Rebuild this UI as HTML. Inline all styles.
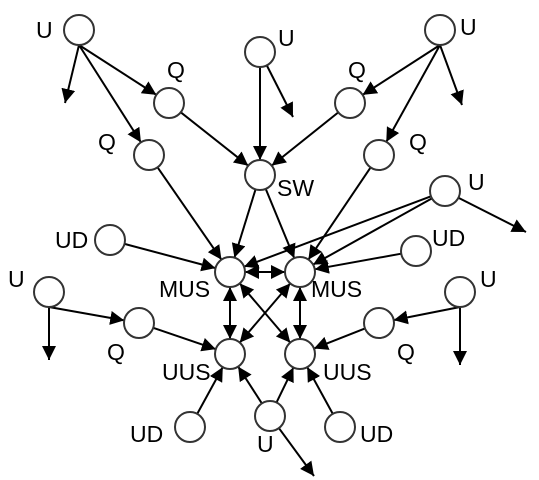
<!DOCTYPE html>
<html><head><meta charset="utf-8"><style>
html,body{margin:0;padding:0;background:#fff;width:539px;height:480px;overflow:hidden}
text{font-family:"Liberation Sans",Arial,sans-serif;font-size:23px;fill:#000}
</style></head><body>
<svg id="s" width="539" height="480" xmlns="http://www.w3.org/2000/svg">
<defs>
<marker id="b" viewBox="0 0 10 10" refX="10" refY="5" markerWidth="14" markerHeight="14" orient="auto-start-reverse" markerUnits="userSpaceOnUse"><path d="M0,0L10,5L0,10z" fill="#000"/></marker></defs>
<g id="e" stroke="#000" stroke-width="2"></g>
<g id="n" fill="#fff" stroke="#333" stroke-width="2"></g>
<text x="36" y="38">U</text>
<text x="167" y="78">Q</text>
<text x="278" y="46">U</text>
<text x="348" y="78">Q</text>
<text x="460" y="35">U</text>
<text x="98" y="150">Q</text>
<text x="409" y="150">Q</text>
<text x="277" y="196">SW</text>
<text x="468" y="190">U</text>
<text x="55" y="248">UD</text>
<text x="432" y="246">UD</text>
<text x="159" y="297">MUS</text>
<text x="311" y="297">MUS</text>
<text x="8" y="287">U</text>
<text x="480" y="287">U</text>
<text x="107" y="360">Q</text>
<text x="397" y="360">Q</text>
<text x="162" y="380">UUS</text>
<text x="323" y="380">UUS</text>
<text x="130" y="442">UD</text>
<text x="257" y="452">U</text>
<text x="360" y="442">UD</text>
</svg>
<script>
var R=15;
var N={utl:[79,30],utc:[260,52],utr:[440,30],q1:[169,103],q2:[350,103],q3:[149,155],q4:[379,155],sw:[260,175],ur:[445,191],udl:[110,240],udr:[416,251],ml:[230,272],mr:[300,272],ul:[49,292],ur2:[460,292],ql:[139,323],qr:[379,323],uul:[230,354],uur:[300,354],udbl:[190,427],ub:[270,416],udbr:[340,427]};
var E=[["utl",[65,103]],["utl","q1"],["utl","q3"],["utc","sw"],["utc",[293,117]],["utr","q2"],["utr","q4"],["utr",[462,105]],["q1","sw"],["q2","sw"],["q3","ml"],["q4","mr"],["sw","ml"],["sw","mr"],["ur","ml"],["ur","mr"],["ur",[526,232]],["udl","ml"],["udr","mr"],["ml","mr",1],["ml","uul",1],["mr","uur",1],["ml","uur",1],["uul","mr",1],["ul",[49,360]],["ul","ql"],["ur2",[460,365]],["ur2","qr"],["ql","uul"],["qr","uur"],["udbl","uul"],["ub","uul"],["ub","uur"],["ub",[314,476]],["udbr","uur"]];
var bottom={utl:1,utr:1,ul:1,ur2:1};
var ns="http://www.w3.org/2000/svg",g=document.getElementById("e");
E.forEach(function(e){
 var a=N[e[0]],bt=typeof e[1]=="string",b=bt?N[e[1]]:e[1];
 var x1,y1;
 if(bottom[e[0]]){x1=a[0];y1=a[1]+R;}
 var dx=b[0]-a[0],dy=b[1]-a[1],d=Math.hypot(dx,dy),ux=dx/d,uy=dy/d;
 if(x1===undefined){x1=a[0]+ux*R;y1=a[1]+uy*R;}
 var x2=b[0],y2=b[1];
 if(bt){dx=b[0]-x1;dy=b[1]-y1;d=Math.hypot(dx,dy);x2=b[0]-dx/d*R;y2=b[1]-dy/d*R;}
 var l=document.createElementNS(ns,"line");
 l.setAttribute("x1",x1);l.setAttribute("y1",y1);l.setAttribute("x2",x2);l.setAttribute("y2",y2);
 l.setAttribute("marker-end","url(#b)");
 if(e[2]){l.setAttribute("marker-start","url(#b)");}
 g.appendChild(l);
});
var gn=document.getElementById("n");
for(var k in N){var c=document.createElementNS(ns,"circle");c.setAttribute("cx",N[k][0]);c.setAttribute("cy",N[k][1]);c.setAttribute("r",R);gn.appendChild(c);}
</script>
</body></html>
